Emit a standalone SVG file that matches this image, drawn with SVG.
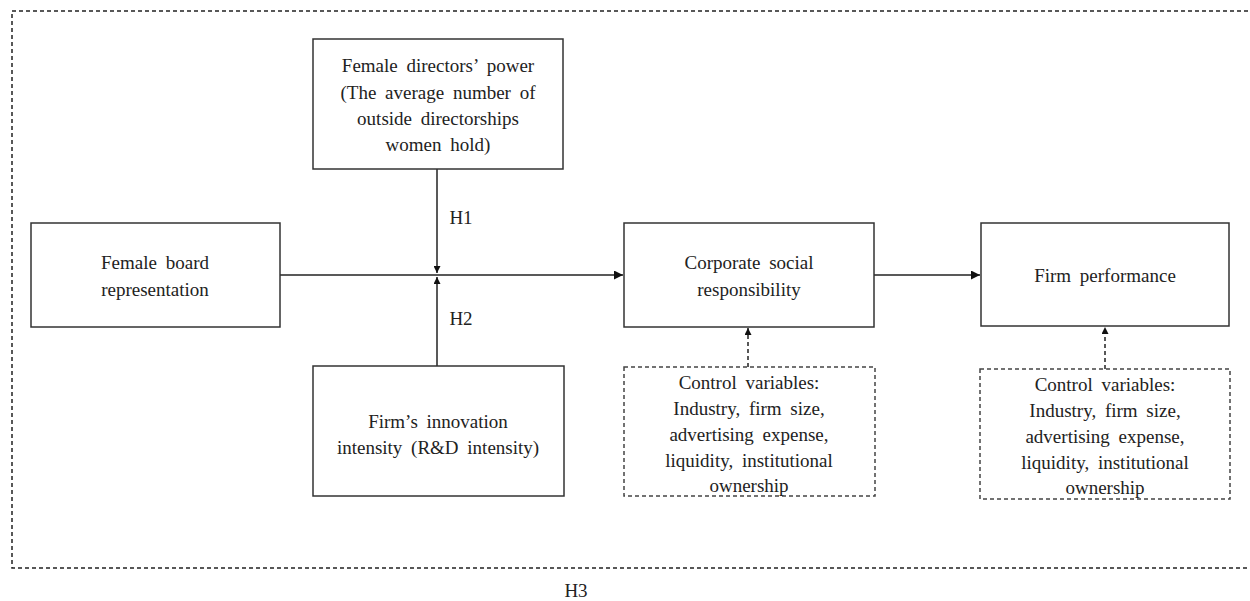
<svg xmlns="http://www.w3.org/2000/svg" width="1250" height="601" viewBox="0 0 1250 601">
<style>
  .box { fill: #fff; stroke: #333; stroke-width: 1.5; }
  .dbox { fill: #fff; stroke: #444; stroke-width: 1.5; stroke-dasharray: 4 3; }
  .t { font-family: "Liberation Serif", "Times New Roman", serif; font-size: 19px; fill: #222; text-anchor: middle; word-spacing: 4px; }
  .ln { stroke: #222; stroke-width: 1.5; fill: none; }
  .dl { stroke: #222; stroke-width: 1.5; fill: none; stroke-dasharray: 4 3; }
</style>
<defs>
  <marker id="ah" viewBox="0 0 10 10" refX="10" refY="5" markerWidth="7" markerHeight="7" markerUnits="userSpaceOnUse" orient="auto">
    <path d="M0,0 L10,5 L0,10 Z" fill="#111"/>
  </marker>
  <marker id="ahs" viewBox="0 0 10 10" refX="10" refY="5" markerWidth="9" markerHeight="9" markerUnits="userSpaceOnUse" orient="auto">
    <path d="M0,0 L10,5 L0,10 Z" fill="#111"/>
  </marker>
</defs>
<rect width="1250" height="601" fill="#fff"/>
<g id="frame">
  <path d="M1248,11 L12,11 L12,568 L1248,568" class="dl" stroke="#555"/>
  <text class="t" x="576" y="597">H3</text>
</g>
<g id="connectors">
  <line class="ln" x1="280" y1="275" x2="623" y2="275" marker-end="url(#ahs)"/>
  <line class="ln" x1="437" y1="169" x2="437" y2="273" marker-end="url(#ah)"/>
  <line class="ln" x1="437" y1="366" x2="437" y2="277" marker-end="url(#ah)"/>
  <line class="ln" x1="874" y1="275" x2="980" y2="275" marker-end="url(#ahs)"/>
  <line class="dl" x1="748" y1="367" x2="748" y2="328" marker-end="url(#ah)"/>
  <line class="dl" x1="1105" y1="369" x2="1105" y2="327" marker-end="url(#ah)"/>
  <text class="t" x="461" y="224">H1</text>
  <text class="t" x="461" y="325">H2</text>
</g>
<g id="directors">
  <rect class="box" x="313" y="39" width="250" height="130"/>
  <text class="t" x="438" y="72">Female directors’ power</text>
  <text class="t" x="438" y="99">(The average number of</text>
  <text class="t" x="438" y="125">outside directorships</text>
  <text class="t" x="438" y="151">women hold)</text>
</g>
<g id="board">
  <rect class="box" x="31" y="223" width="249" height="104"/>
  <text class="t" x="155" y="269">Female board</text>
  <text class="t" x="155" y="296">representation</text>
</g>
<g id="innovation">
  <rect class="box" x="313" y="366" width="251" height="130"/>
  <text class="t" x="438" y="428">Firm’s innovation</text>
  <text class="t" x="438" y="454">intensity  (R&amp;D intensity)</text>
</g>
<g id="csr">
  <rect class="box" x="624" y="223" width="250" height="104"/>
  <text class="t" x="749" y="269">Corporate social</text>
  <text class="t" x="749" y="296">responsibility</text>
</g>
<g id="performance">
  <rect class="box" x="981" y="223" width="248" height="103"/>
  <text class="t" x="1105" y="282">Firm performance</text>
</g>
<g id="controls1">
  <rect class="dbox" x="624" y="367" width="251" height="129"/>
  <text class="t" x="749" y="389">Control variables:</text>
  <text class="t" x="749" y="415">Industry, firm  size,</text>
  <text class="t" x="749" y="441">advertising  expense,</text>
  <text class="t" x="749" y="467">liquidity,  institutional</text>
  <text class="t" x="749" y="492">ownership</text>
</g>
<g id="controls2">
  <rect class="dbox" x="980" y="369" width="250" height="130"/>
  <text class="t" x="1105" y="391">Control variables:</text>
  <text class="t" x="1105" y="417">Industry, firm  size,</text>
  <text class="t" x="1105" y="443">advertising  expense,</text>
  <text class="t" x="1105" y="469">liquidity,  institutional</text>
  <text class="t" x="1105" y="494">ownership</text>
</g>
</svg>
